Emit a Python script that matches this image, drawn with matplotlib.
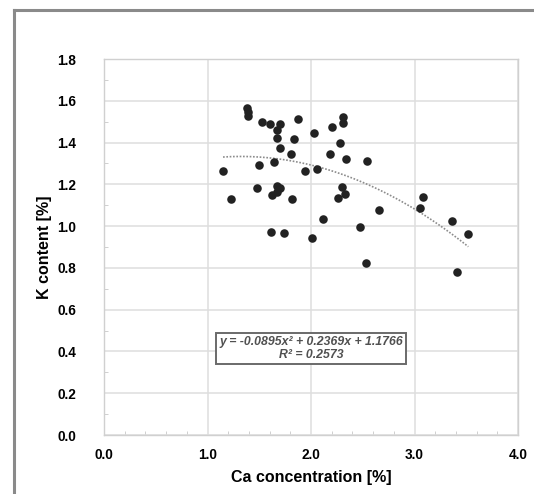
import numpy as np
import matplotlib
matplotlib.use("Agg")
import matplotlib.pyplot as plt
from matplotlib.lines import Line2D
from matplotlib.ticker import MultipleLocator

plt.rcParams['font.family'] = ['Liberation Sans', 'DejaVu Sans']

# Ca concentration [%] vs K content [%]
ca = [1.38, 1.39, 1.39, 1.53, 1.60, 1.70, 1.67, 1.87, 2.03, 1.67,
      1.84, 1.70, 1.81, 1.15, 1.50, 1.64, 1.94, 2.06, 1.23, 1.48,
      1.67, 1.70, 1.67, 1.62, 1.82, 1.61, 1.74, 2.01, 2.20, 2.31,
      2.31, 2.28, 2.18, 2.34, 2.54, 2.30, 2.33, 2.26, 2.12, 2.66,
      2.47, 2.53, 3.08, 3.05, 3.36, 3.52, 3.41]
k = [1.564, 1.545, 1.527, 1.497, 1.489, 1.489, 1.460, 1.511, 1.444, 1.420,
     1.416, 1.372, 1.345, 1.264, 1.292, 1.305, 1.264, 1.272, 1.130, 1.181,
     1.193, 1.184, 1.162, 1.147, 1.130, 0.970, 0.966, 0.942, 1.476, 1.524,
     1.492, 1.399, 1.344, 1.321, 1.310, 1.189, 1.155, 1.135, 1.035, 1.079,
     0.994, 0.822, 1.139, 1.088, 1.023, 0.962, 0.780]

# polynomial trendline coefficients as printed on the chart
coef = [-0.0895, 0.2369, 1.1766]
r2 = 0.2573

fig = plt.figure(figsize=(5.34, 4.94), dpi=100)
ax = fig.add_axes([104/534, 1-435/494, 414/534, 376/494])

# screenshot frame (left and top edge)
fig.add_artist(Line2D([14/534, 14/534], [0, 1-10/494], transform=fig.transFigure,
                      color='#8a8a8a', lw=2.2))
fig.add_artist(Line2D([14/534, 1], [1-10/494, 1-10/494], transform=fig.transFigure,
                      color='#8a8a8a', lw=2.2))

ax.scatter(ca, k, s=38, color='#222222', zorder=3, linewidths=0)

xs = np.linspace(min(ca), max(ca), 100)
ax.plot(xs, np.polyval(coef, xs), ls=(0, (1, 1)), color='#8c8c8c', lw=1.2, zorder=2)

ax.set_xlim(0, 4)
ax.set_ylim(0, 1.8)
ax.xaxis.set_major_locator(MultipleLocator(1.0))
ax.xaxis.set_minor_locator(MultipleLocator(0.2))
ax.yaxis.set_major_locator(MultipleLocator(0.2))
ax.yaxis.set_minor_locator(MultipleLocator(0.1))
ax.set_xticklabels([f'{v:.1f}' for v in ax.get_xticks()])
ax.set_yticklabels([f'{v:.1f}' for v in ax.get_yticks()])
ax.grid(True, which='major', color='#dedede', lw=1.1)
ax.set_axisbelow(True)
ax.tick_params(which='major', length=0, labelsize=9.8)
ax.tick_params(axis='x', which='major', pad=9)
ax.tick_params(axis='y', which='major', pad=20)
ax.tick_params(which='minor', direction='in', length=3, color='#c8c8c8')
for lab in ax.get_xticklabels() + ax.get_yticklabels():
    lab.set_fontweight('bold')
for sp in ax.spines.values():
    sp.set_color('#d0d0d0')
    sp.set_linewidth(1.0)

ax.set_xlabel('Ca concentration [%]', fontsize=11.5, fontweight='bold', labelpad=6)
ax.set_ylabel('K content [%]', fontsize=11.5, fontweight='bold', labelpad=4)

eq = f'y = {coef[0]:.4f}x\u00b2 + {coef[1]:.4f}x + {coef[2]:.4f}\nR\u00b2 = {r2:.4f}'
ax.text(2.0, 0.416, eq, ha='center', va='center', fontsize=8.8, fontstyle='italic',
        fontweight='bold', color='#505050', linespacing=1.1,
        bbox=dict(boxstyle='square,pad=0.25', fc='white', ec='#6a6a6a', lw=1.4))

fig.savefig('out.png', dpi=100)
